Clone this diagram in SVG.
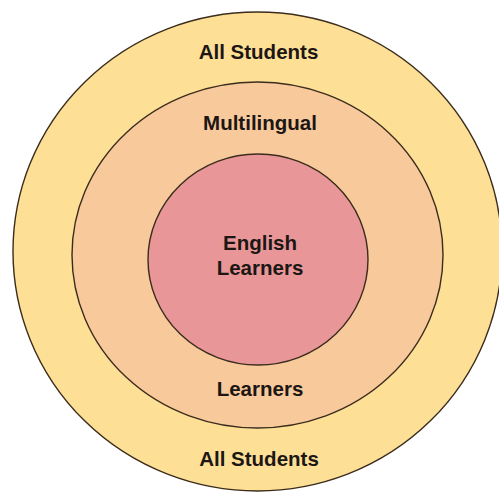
<svg xmlns="http://www.w3.org/2000/svg" width="499" height="492" viewBox="0 0 499 492">
  <style>
    .ring { stroke: #3b2c1c; stroke-width: 1.4; }
    .label { font-family: "Liberation Sans", Arial, sans-serif; font-weight: bold; font-size: 20.5px; fill: #1c1614; text-anchor: middle; }
  </style>
  <rect width="499" height="492" fill="#ffffff"/>
  <g id="all-students">
    <ellipse class="ring" cx="257.5" cy="251.5" rx="244.5" ry="239.5" fill="#fde096"/>
    <text class="label" x="258.5" y="59">All Students</text>
    <text class="label" x="259" y="466">All Students</text>
  </g>
  <g id="multilingual-learners">
    <ellipse class="ring" cx="257.5" cy="255" rx="185.5" ry="173" fill="#f8c99b"/>
    <text class="label" x="260" y="130">Multilingual</text>
    <text class="label" x="260" y="396">Learners</text>
  </g>
  <g id="english-learners">
    <ellipse class="ring" cx="258" cy="259.5" rx="110" ry="105.5" fill="#e89697"/>
    <text class="label" x="260" y="250">English</text>
    <text class="label" x="260" y="275">Learners</text>
  </g>
  <g id="connectors"/>
</svg>
